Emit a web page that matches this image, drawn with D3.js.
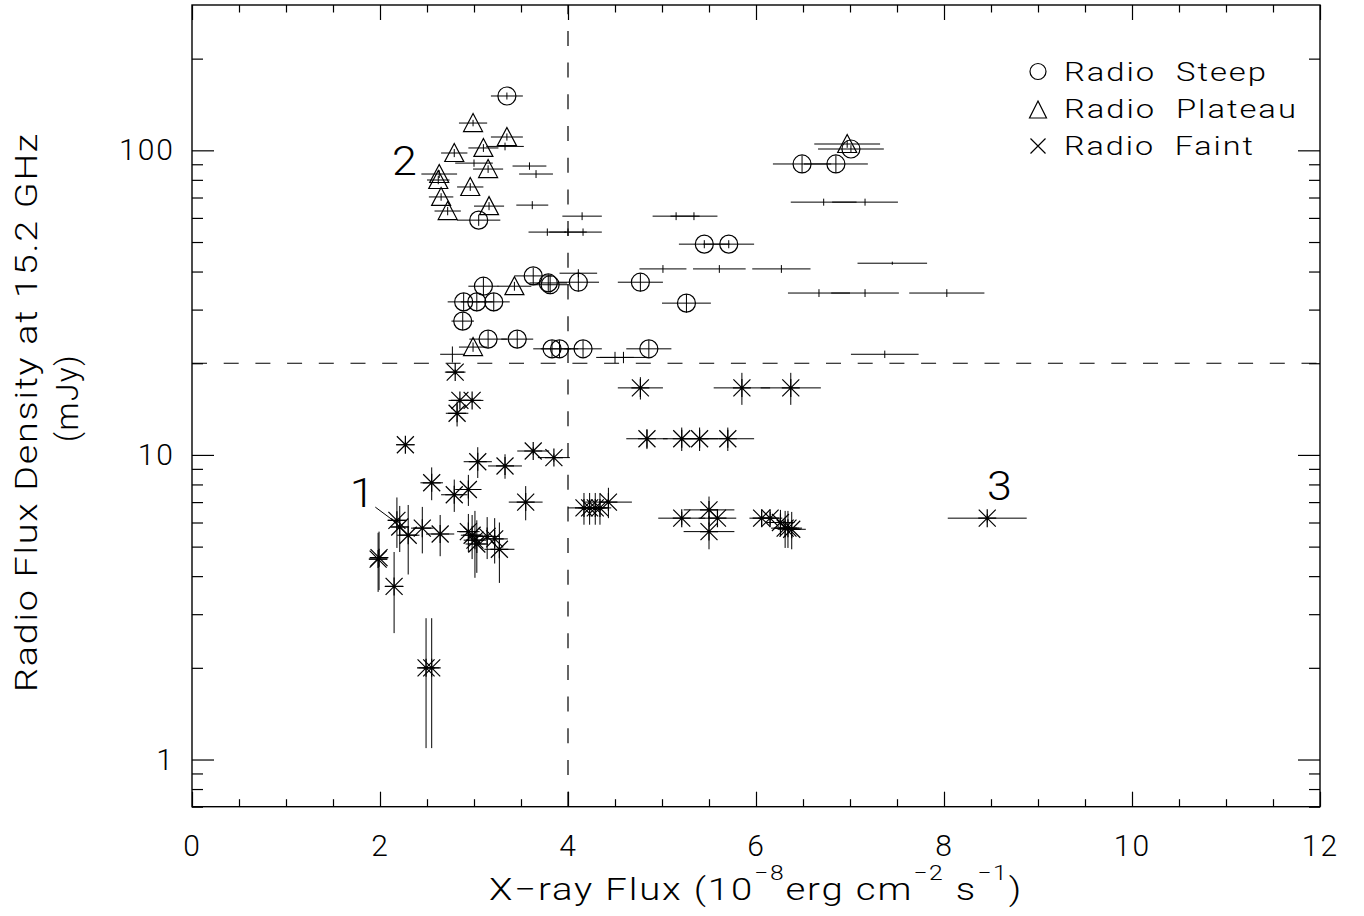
<!DOCTYPE html>
<html><head><meta charset="utf-8">
<script src="https://cdn.jsdelivr.net/npm/d3@7"></script>
<style>body{margin:0;background:#fff}</style>
</head><body>
<svg id="chart" width="1364" height="916"></svg>
<script>
// ---------------- data ----------------
// Radio Steep (circles)
const steepX    = [3.35,3.05,6.49,6.85,7.01,5.45,5.71,4.77,5.26,4.11,3.63,3.79,3.81,3.10,2.89,3.03,3.21,2.88,3.15,3.46,3.83,3.91,4.16,4.86];
const steepY    = [150.8,59.0,90.2,90.2,101,49.2,49.2,36.9,31.5,36.9,38.7,36.7,36.2,35.8,31.8,31.8,31.8,27.5,24.0,24.0,22.3,22.3,22.3,22.3];
const steepXErr = [0.17,0.23,0.31,0.34,0.35,0.27,0.27,0.24,0.26,0.22,0.2,0.2,0.2,0.16,0.17,0.17,0.17,0.12,0.2,0.17,0.2,0.2,0.2,0.24];
const steepYErr = [4,2.5,6,6,3,1.5,1.5,2.5,2.2,2.5,2.5,2.5,2.5,2.5,2.2,2.2,2.2,1.8,1.6,1.6,1.5,1.5,1.5,1.5];
// Radio Plateau (triangles)
const plateauX    = [2.99,3.35,2.79,3.10,3.15,2.63,2.62,2.96,2.65,2.72,3.16,3.43,2.99,6.97];
const plateauY    = [122.9,110.6,98.0,101.8,86.8,83.6,79.9,75.8,70.3,63.2,65.6,35.8,22.6,104.9];
const plateauXErr = [0.15,0.17,0.14,0.16,0.16,0.19,0.12,0.14,0.13,0.14,0.16,0.18,0.15,0.35];
const plateauYErr = [3,3,3,3,2.5,2.5,2.5,2.2,2,2,2,1.2,0.8,3];
// Unclassified (error bars only)
const otherX    = [3.59,3.66,3.62,4.15,3.78,4.00,4.16,3.33,3.00,2.77,5.15,5.34,5.01,5.61,6.27,6.72,7.16,7.45,6.67,7.16,8.03,7.37,4.50,4.59,4.11];
const otherY    = [88.8,83.6,66.1,60.8,53.9,53.9,53.9,103,90.8,21.4,60.8,60.8,40.8,40.8,40.8,67.6,67.6,42.6,34.0,34.0,34.0,21.4,20.9,20.9,39.5];
const otherXErr = [0.18,0.18,0.17,0.21,0.2,0.2,0.2,0.2,0.2,0.13,0.25,0.25,0.25,0.28,0.31,0.35,0.35,0.37,0.33,0.36,0.4,0.36,0.2,0.25,0.2];
const otherYErr = [2.5,2.5,2,1.8,1.5,1.5,1.5,3,2.5,1.3,1.8,1.8,1.2,1.2,1.2,1.8,1.8,0.5,1,1,1,0.6,0.9,0.9,1.2];
// Radio Faint (asterisks)
const faintX    = [2.80,2.85,2.98,2.82,2.27,3.04,3.33,3.63,3.85,2.55,2.79,2.94,3.55,2.18,2.21,2.30,2.45,2.64,2.94,2.98,3.01,3.03,3.14,3.22,3.27,1.98,1.99,2.15,2.49,2.55,4.77,5.85,6.37,4.84,5.21,5.40,5.70,4.17,4.23,4.29,4.34,4.43,5.21,5.50,5.50,5.59,6.06,6.15,6.26,6.31,6.34,6.38,8.46];
const faintY    = [18.7,15.1,15.1,13.7,10.8,9.5,9.2,10.3,9.8,8.1,7.4,7.7,7.0,6.1,5.8,5.45,5.75,5.5,5.6,5.45,5.25,5.1,5.4,5.3,4.9,4.55,4.6,3.7,2.0,2.0,16.6,16.6,16.6,11.3,11.3,11.3,11.3,6.7,6.7,6.7,6.7,7.0,6.2,6.6,5.6,6.2,6.2,6.2,6.0,5.75,5.75,5.7,6.2];
const faintXErr = [0.11,0.12,0.12,0.12,0.1,0.15,0.18,0.17,0.17,0.12,0.14,0.14,0.18,0.1,0.1,0.12,0.12,0.15,0.12,0.12,0.12,0.12,0.13,0.14,0.16,0.1,0.1,0.1,0.08,0.08,0.24,0.3,0.32,0.22,0.2,0.2,0.28,0.17,0.12,0.12,0.12,0.25,0.25,0.27,0.27,0.2,0.13,0.13,0.15,0.15,0.15,0.15,0.42];
const faintYErr = [0.4,0.3,0.3,1.3,0.3,1.1,0.85,0.3,0.3,1.0,0.9,0.9,0.9,1.15,1.0,1.4,1.0,0.85,0.8,0.9,1.3,1.0,0.85,0.9,1.1,1.0,1.0,1.1,0.91,0.91,1.4,2.0,2.0,0.85,1.0,1.0,1.0,0.8,0.8,0.8,0.8,0.8,0.3,0.7,0.7,0.4,0.3,0.3,0.6,0.8,0.8,0.8,0.2];

// reference thresholds
const refX = 4, refY = 20;
// axis ticks
const xMajor = [0,2,4,6,8,10,12];
const xMinor = [0.5,1,1.5,2.5,3,3.5,4.5,5,5.5,6.5,7,7.5,8.5,9,9.5,10.5,11,11.5];
const yMajor = [1,10,100];
const yMinor = [0.7,0.8,0.9,2,3,4,5,6,7,8,9,20,30,40,50,60,70,80,90,200];
// annotations
const annoText = ["1","2","3"];
const annoX = [1.81,2.26,8.59];
const annoY = [6.74,83.0,7.1];
const leaderX = [1.95,2.18], leaderY = [6.74,5.97];
// legend
const legendLabels = ["Radio  Steep","Radio  Plateau","Radio  Faint"];
const legendWidths = [204,234,191];

// ---------------- chart ----------------
const FONT = 'Roboto, "DejaVu Sans", sans-serif';
const svg = d3.select('#chart');
const x = d3.scaleLinear().domain([0,12]).range([192,1320]);
const y = d3.scaleLog().domain([0.7,300]).range([806.7,5]);
const [X0,X1] = x.range(), [Y0,Y1] = y.range();

// helper: place text and stretch it horizontally to a target width (mimics the wide stroke font)
function fitText(sel, tx, ty, rot, target, anchor){
  sel.attr('x',0).attr('y',0).attr('text-anchor',anchor).style('white-space','pre');
  const w = sel.node().getComputedTextLength();
  const s = target / w;
  sel.attr('transform',`translate(${tx},${ty}) rotate(${rot}) scale(${s},1)`);
}

// dashed threshold lines
svg.append('line').attr('x1',x(refX)).attr('x2',x(refX)).attr('y1',Y1).attr('y2',Y0)
  .attr('stroke','#000').attr('stroke-width',1.2).attr('stroke-dasharray','15,16.7').attr('stroke-dashoffset',5.8);
svg.append('line').attr('x1',X0).attr('x2',X1).attr('y1',y(refY)).attr('y2',y(refY))
  .attr('stroke','#000').attr('stroke-width',1.2).attr('stroke-dasharray','15,16.7');

function rows(xs,ys,xe,ye){ return xs.map((v,i)=>({x:v,y:ys[i],xe:xe[i],ye:ye[i]})); }
const steep = rows(steepX,steepY,steepXErr,steepYErr);
const plateau = rows(plateauX,plateauY,plateauXErr,plateauYErr);
const other = rows(otherX,otherY,otherXErr,otherYErr);
const faint = rows(faintX,faintY,faintXErr,faintYErr);

const errG = svg.append('g').attr('stroke','#000').attr('stroke-width',1);
function errorBars(data){
  errG.selectAll(null).data(data).enter().append('line')
    .attr('x1',d=>x(d.x-d.xe)).attr('x2',d=>x(d.x+d.xe)).attr('y1',d=>y(d.y)).attr('y2',d=>y(d.y));
  errG.selectAll(null).data(data).enter().append('line')
    .attr('x1',d=>x(d.x)).attr('x2',d=>x(d.x)).attr('y1',d=>y(d.y+d.ye)).attr('y2',d=>y(Math.max(d.y-d.ye,0.71)));
}
[steep,plateau,other,faint].forEach(errorBars);

const mk = svg.append('g').attr('fill','none').attr('stroke','#000').attr('stroke-width',1.2);
mk.selectAll(null).data(steep).enter().append('circle')
  .attr('cx',d=>x(d.x)).attr('cy',d=>y(d.y)).attr('r',9);
const triPath = 'M0,-9.5L9.5,8.5L-9.5,8.5Z';
mk.selectAll(null).data(plateau).enter().append('path')
  .attr('d',triPath).attr('transform',d=>`translate(${x(d.x)},${y(d.y)})`);
const astPath = 'M0,-9V9M-9,0H9M-8.5,-8.5L8.5,8.5M-8.5,8.5L8.5,-8.5';
mk.selectAll(null).data(faint).enter().append('path')
  .attr('d',astPath).attr('transform',d=>`translate(${x(d.x)},${y(d.y)})`);

// annotations
svg.append('line').attr('x1',x(leaderX[0])).attr('y1',y(leaderY[0])).attr('x2',x(leaderX[1])).attr('y2',y(leaderY[1]))
  .attr('stroke','#000').attr('stroke-width',1);
svg.selectAll(null).data(annoText).enter().append('text')
  .attr('x',(d,i)=>x(annoX[i])).attr('y',(d,i)=>y(annoY[i]))
  .attr('text-anchor','middle').attr('font-family',FONT).attr('font-weight',300)
  .attr('font-size',40).attr('fill','#000').text(d=>d)
  .attr('transform',(d,i)=>`translate(${x(annoX[i])},${y(annoY[i])}) scale(1.12,1) translate(${-x(annoX[i])},${-y(annoY[i])})`);

// axes
function styleAxis(g){
  g.select('.domain').remove();
  g.selectAll('line').attr('stroke','#000').attr('stroke-width',1.2);
  g.selectAll('text').attr('font-family',FONT).attr('font-size',30).attr('font-weight',300).attr('fill','#000');
}
svg.append('g').attr('transform',`translate(0,${Y0})`)
  .call(d3.axisBottom(x).tickValues(xMajor).tickSize(-15).tickPadding(28).tickFormat(d3.format('d'))).call(styleAxis)
  .selectAll('text').attr('letter-spacing',2);
svg.append('g').attr('transform',`translate(0,${Y0})`)
  .call(d3.axisBottom(x).tickValues(xMinor).tickSize(-7.5).tickFormat('')).call(styleAxis);
svg.append('g').attr('transform',`translate(0,${Y1})`)
  .call(d3.axisTop(x).tickValues(xMajor).tickSize(-15).tickFormat('')).call(styleAxis);
svg.append('g').attr('transform',`translate(0,${Y1})`)
  .call(d3.axisTop(x).tickValues(xMinor).tickSize(-7.5).tickFormat('')).call(styleAxis);
svg.append('g').attr('transform',`translate(${X0},0)`)
  .call(d3.axisLeft(y).tickValues(yMajor).tickSize(-22).tickPadding(17).tickFormat(d3.format('d'))).call(styleAxis)
  .selectAll('text').attr('letter-spacing',2);
svg.append('g').attr('transform',`translate(${X0},0)`)
  .call(d3.axisLeft(y).tickValues(yMinor).tickSize(-11).tickFormat('')).call(styleAxis);
svg.append('g').attr('transform',`translate(${X1},0)`)
  .call(d3.axisRight(y).tickValues(yMajor).tickSize(-22).tickFormat('')).call(styleAxis);
svg.append('g').attr('transform',`translate(${X1},0)`)
  .call(d3.axisRight(y).tickValues(yMinor).tickSize(-11).tickFormat('')).call(styleAxis);

// frame
svg.append('rect').attr('x',X0).attr('y',Y1).attr('width',X1-X0).attr('height',Y0-Y1)
  .attr('fill','none').attr('stroke','#000').attr('stroke-width',1.4);

// axis titles
const xt = svg.append('text').attr('font-family',FONT).attr('font-weight',300).attr('font-size',31)
  .attr('fill','#000').attr('letter-spacing',1.5);
xt.append('tspan').text('X\u2212ray Flux (10');
xt.append('tspan').attr('font-size',20).attr('dy',-20).text('\u22128');
xt.append('tspan').attr('dy',20).text('erg cm');
xt.append('tspan').attr('font-size',20).attr('dy',-20).text('\u22122');
xt.append('tspan').attr('dy',20).text(' s');
xt.append('tspan').attr('font-size',20).attr('dy',-20).text('\u22121');
xt.append('tspan').attr('dy',20).text(')');
fitText(xt,(X0+X1)/2,900,0,534,'middle');

const yt1 = svg.append('text').attr('font-family',FONT).attr('font-weight',300).attr('font-size',32)
  .attr('fill','#000').attr('letter-spacing',1.5).text('Radio Flux Density at 15.2 GHz');
fitText(yt1,37,412,-90,560,'middle');
const yt2 = svg.append('text').attr('font-family',FONT).attr('font-weight',300).attr('font-size',32)
  .attr('fill','#000').attr('letter-spacing',1.5).text('(mJy)');
fitText(yt2,78,398,-90,88,'middle');

// legend
const lg = svg.append('g');
const rowsY = [81,118,155];
lg.append('circle').attr('cx',1038).attr('cy',71.5).attr('r',8).attr('fill','none').attr('stroke','#000').attr('stroke-width',1.2);
lg.append('path').attr('d','M0,-9L8.5,8L-8.5,8Z').attr('transform','translate(1038,110)').attr('fill','none').attr('stroke','#000').attr('stroke-width',1.2);
lg.append('path').attr('d','M-7.5,-7.5L7.5,7.5M-7.5,7.5L7.5,-7.5').attr('transform','translate(1038,146)').attr('fill','none').attr('stroke','#000').attr('stroke-width',1.2);
legendLabels.forEach((lab,i)=>{
  const t = lg.append('text').attr('font-family',FONT).attr('font-weight',300).attr('font-size',25)
    .attr('fill','#000').attr('letter-spacing',1.5).text(lab);
  fitText(t,1064,rowsY[i],0,legendWidths[i],'start');
});
</script>
</body></html>
